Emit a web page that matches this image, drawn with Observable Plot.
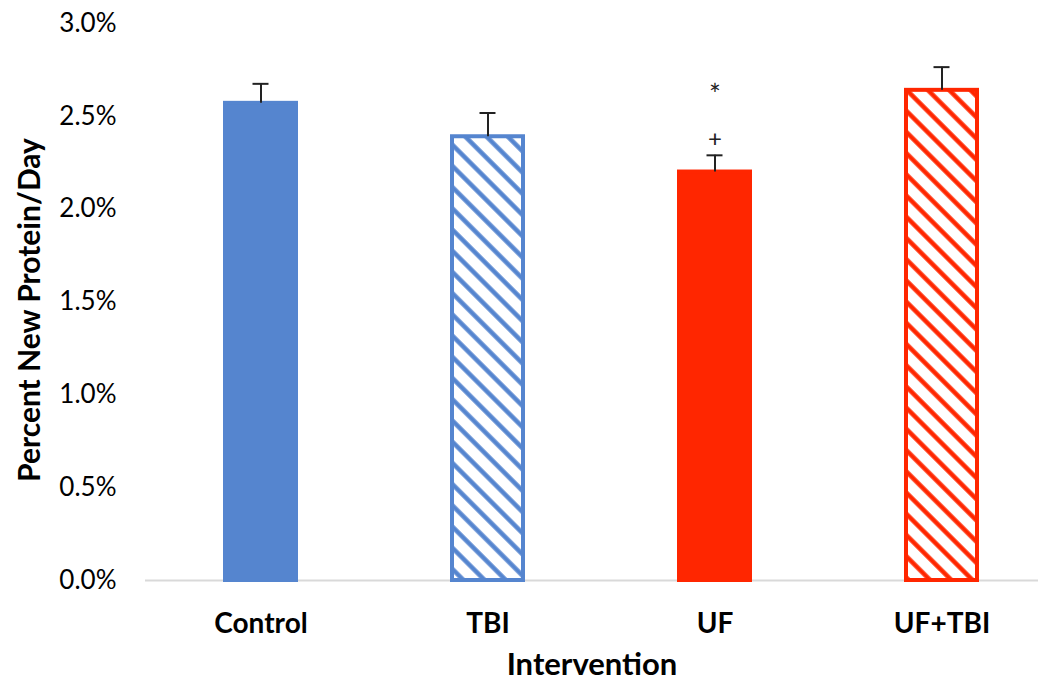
<!DOCTYPE html>
<html>
<head>
<meta charset="utf-8">
<script src="https://cdn.jsdelivr.net/npm/d3@7"></script>
<script src="https://cdn.jsdelivr.net/npm/@observablehq/plot@0.6"></script>
<style>
  html, body { margin: 0; padding: 0; background: #fff; }
  #chart svg { display: block; }
</style>
</head>
<body>
<div id="chart"></div>
<script>
// Data (percent new protein per day)
const categories = ["Control", "TBI", "UF", "UF+TBI"];
const means = [2.57, 2.39, 2.20, 2.64];
const upperErr = [2.675, 2.518, 2.29, 2.765];
const fills = ["#5585CF", "url(#hatchBlue)", "#FF2600", "url(#hatchRed)"];
const strokes = ["#5585CF", "#5585CF", "#FF2600", "#FF2600"];
const yTicks = [0, 0.5, 1.0, 1.5, 2.0, 2.5, 3.0];
const annotCats = ["UF", "UF"];
const annotY = [2.375, 2.61];
const annotText = ["+", "*"];
const annotSize = [24, 28];

const data = categories.map((c, i) => ({cat: c, mean: means[i], upper: upperErr[i], stroke: strokes[i]}));
const annots = annotCats.map((c, i) => ({cat: c, y: annotY[i], t: annotText[i], s: annotSize[i]}));

const font = "Lato, 'Open Sans', sans-serif";

const plot = Plot.plot({
  width: 1038,
  height: 683,
  marginLeft: 145,
  marginRight: 0,
  marginTop: 23,
  marginBottom: 103,
  style: {fontFamily: font, background: "#fff", color: "#000"},
  x: {domain: categories, range: [145, 1056], paddingInner: 0.67, paddingOuter: 0.333, label: null},
  y: {domain: [0, 3.0], ticks: yTicks, label: null},
  color: {type: "ordinal", domain: categories, range: fills},
  marks: [
    Plot.ruleY([0], {stroke: "#d9d9d9", strokeWidth: 2}),
    Plot.barY(data, {x: "cat", y: "mean", fill: "cat", stroke: "stroke", strokeWidth: 4, insetLeft: 2, insetRight: 2}),
    Plot.ruleX(data, {x: "cat", y1: "mean", y2: "upper", stroke: "#222", strokeWidth: 2}),
    Plot.tickY(data, {x: "cat", y: "upper", stroke: "#222", strokeWidth: 2, insetLeft: 29.5, insetRight: 29.5}),
    Plot.text(annots.filter(d => d.t === "+"), {x: "cat", y: "y", text: "t", fontSize: 24, fill: "#222"}),
    Plot.text(annots.filter(d => d.t === "*"), {x: "cat", y: "y", text: "t", fontSize: 28, fill: "#222"}),
    Plot.axisY({ticks: yTicks, tickSize: 0, tickPadding: 29, tickFormat: d => d.toFixed(1) + "%", fontSize: 26, label: null}),
    Plot.axisX({tickSize: 0, tickPadding: 33, fontSize: 28, fontWeight: "bold", label: null}),
    Plot.text(["Percent New Protein/Day"], {frameAnchor: "left", textAnchor: "middle", dx: -115, dy: 8, rotate: -90, fontSize: 30, fontWeight: "bold", text: d => d}),
    Plot.text(["Intervention"], {frameAnchor: "bottom", dy: 94, fontSize: 31, fontWeight: "bold", text: d => d})
  ]
});

// Hatch pattern definitions
const defs = d3.select(plot).insert("defs", ":first-child");
[["hatchBlue", "#5585CF"], ["hatchRed", "#FF2600"]].forEach(([id, col]) => {
  const p = defs.append("pattern")
    .attr("id", id)
    .attr("patternUnits", "userSpaceOnUse")
    .attr("width", 15).attr("height", 15)
    .attr("patternTransform", "rotate(-45)");
  p.append("rect").attr("width", 15).attr("height", 15).attr("fill", "#fff");
  p.append("line").attr("x1", 7.5).attr("y1", 0).attr("x2", 7.5).attr("y2", 15)
    .attr("stroke", col).attr("stroke-width", 4.5);
});

document.getElementById("chart").appendChild(plot);
</script>
</body>
</html>
